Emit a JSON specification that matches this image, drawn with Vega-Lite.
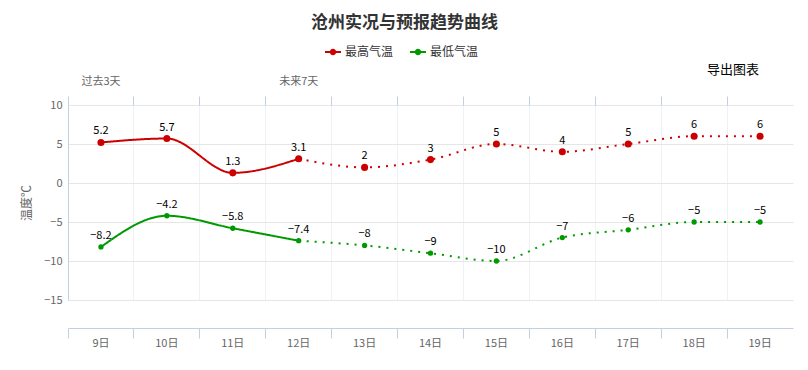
{
  "$schema": "https://vega.github.io/schema/vega-lite/v6.json",
  "width": 725,
  "height": 195,
  "autosize": {"type": "none"},
  "padding": {"left": 68, "top": 105, "right": 15, "bottom": 70},
  "background": "#ffffff",
  "title": {
    "text": "沧州实况与预报趋势曲线",
    "anchor": "middle",
    "dx": -26,
    "offset": 12,
    "font": "Noto Sans CJK SC",
    "fontSize": 17,
    "fontWeight": "bold",
    "color": "#333333"
  },
  "config": {
    "font": "Noto Sans CJK SC",
    "view": {"stroke": null},
    "axisY": {"values": [-15, -10, -5, 0, 5, 10], "labelOverlap": false, "tickCount": 6, "titleColor": "#666666", "titleFontWeight": "normal", "titleFontSize": 12, "titlePadding": 10, "labelColor": "#666666", "labelFontSize": 11, "labelPadding": 6, "ticks": false, "domainColor": "#c0d0e0", "gridColor": "#e6e6e6", "grid": true},
    "legend": {
      "symbolType": "M-1,-0.13H1V0.13H-1Z M-0.4,0a0.4,0.4 0 1,1 0.8,0a0.4,0.4 0 1,1 -0.8,0",
      "symbolSize": 256,
      "symbolStrokeWidth": 0,
      "labelFontSize": 12,
      "labelColor": "#333333",
      "labelFont": "Noto Sans CJK SC"
    }
  },
  "datasets": {
    "temps": [
      {"date": "9日", "type": "最高气温", "value": 5.2, "phase": "实况"},
      {"date": "10日", "type": "最高气温", "value": 5.7, "phase": "实况"},
      {"date": "11日", "type": "最高气温", "value": 1.3, "phase": "实况"},
      {"date": "12日", "type": "最高气温", "value": 3.1, "phase": "实况"},
      {"date": "12日", "type": "最高气温", "value": 3.1, "phase": "预报"},
      {"date": "13日", "type": "最高气温", "value": 2, "phase": "预报"},
      {"date": "14日", "type": "最高气温", "value": 3, "phase": "预报"},
      {"date": "15日", "type": "最高气温", "value": 5, "phase": "预报"},
      {"date": "16日", "type": "最高气温", "value": 4, "phase": "预报"},
      {"date": "17日", "type": "最高气温", "value": 5, "phase": "预报"},
      {"date": "18日", "type": "最高气温", "value": 6, "phase": "预报"},
      {"date": "19日", "type": "最高气温", "value": 6, "phase": "预报"},
      {"date": "9日", "type": "最低气温", "value": -8.2, "phase": "实况"},
      {"date": "10日", "type": "最低气温", "value": -4.2, "phase": "实况"},
      {"date": "11日", "type": "最低气温", "value": -5.8, "phase": "实况"},
      {"date": "12日", "type": "最低气温", "value": -7.4, "phase": "实况"},
      {"date": "12日", "type": "最低气温", "value": -7.4, "phase": "预报"},
      {"date": "13日", "type": "最低气温", "value": -8, "phase": "预报"},
      {"date": "14日", "type": "最低气温", "value": -9, "phase": "预报"},
      {"date": "15日", "type": "最低气温", "value": -10, "phase": "预报"},
      {"date": "16日", "type": "最低气温", "value": -7, "phase": "预报"},
      {"date": "17日", "type": "最低气温", "value": -6, "phase": "预报"},
      {"date": "18日", "type": "最低气温", "value": -5, "phase": "预报"},
      {"date": "19日", "type": "最低气温", "value": -5, "phase": "预报"}
    ],
    "notes": [
      {"date": "9日", "level": 13, "label": "过去3天"},
      {"date": "12日", "level": 13, "label": "未来7天"}
    ],
    "button": [
      {"date": "19日", "level": 14.5, "label": "导出图表"}
    ]
  },
  "resolve": {"axis": {"x": "independent"}},
  "layer": [
    {
      "data": {"name": "temps"},
      "mark": {"type": "line", "interpolate": "monotone", "strokeWidth": 2, "strokeCap": "butt"},
      "encoding": {
        "x": {
          "field": "date", "type": "nominal",
          "scale": {"type": "band", "paddingInner": 0, "paddingOuter": 0, "domain": ["9日","10日","11日","12日","13日","14日","15日","16日","17日","18日","19日"]},
          "axis": {"orient": "bottom", "offset": 28, "bandPosition": 0, "labels": false, "title": null, "ticks": true, "tickSize": 10, "tickColor": "#c0d0e0", "domainColor": "#c0d0e0", "grid": true, "gridColor": "#eef1f5"}
        },
        "y": {
          "field": "value", "type": "quantitative",
          "scale": {"domain": [-15, 10], "nice": false, "zero": false},
          "axis": {"title": "温度℃", "values": [-15, -10, -5, 0, 5, 10]}
        },
        "color": {
          "field": "type", "type": "nominal",
          "scale": {"domain": ["最高气温", "最低气温"], "range": ["#cc0000", "#009900"]},
          "legend": {"title": null, "orient": "none", "direction": "horizontal", "legendX": 257, "legendY": -61, "columnPadding": 16}
        },
        "strokeDash": {
          "field": "phase", "type": "nominal",
          "scale": {"domain": ["实况", "预报"], "range": [[1, 0], [2, 6]]},
          "legend": null
        }
      }
    },
    {
      "data": {"name": "temps"},
      "transform": [{"filter": "datum.type === '最高气温' && !(datum.phase === '预报' && datum.date === '12日')"}],
      "mark": {"type": "point", "filled": true, "opacity": 1, "shape": "circle", "size": 50},
      "encoding": {
        "x": {
          "field": "date", "type": "nominal",
          "axis": {"orient": "bottom", "offset": 28, "labels": true, "labelAngle": 0, "title": null, "ticks": false, "domain": false, "grid": false, "labelColor": "#666666", "labelFontSize": 11, "labelPadding": 9}
        },
        "y": {"field": "value", "type": "quantitative", "axis": {"title": "温度℃", "values": [-15, -10, -5, 0, 5, 10]}},
        "color": {"field": "type", "type": "nominal"}
      }
    },
    {
      "data": {"name": "temps"},
      "transform": [{"filter": "datum.type === '最低气温' && !(datum.phase === '预报' && datum.date === '12日')"}],
      "mark": {"type": "point", "filled": true, "opacity": 1, "shape": "circle", "size": 28},
      "encoding": {
        "x": {"field": "date", "type": "nominal", "axis": null},
        "y": {"field": "value", "type": "quantitative", "axis": {"title": "温度℃", "values": [-15, -10, -5, 0, 5, 10]}},
        "color": {"field": "type", "type": "nominal"}
      }
    },
    {
      "data": {"name": "temps"},
      "transform": [{"filter": "!(datum.phase === '预报' && datum.date === '12日')"}],
      "mark": {"type": "text", "dy": -11, "fontSize": 11, "color": "#000000"},
      "encoding": {
        "x": {
          "field": "date", "type": "nominal",
          "axis": {"orient": "top", "bandPosition": 0, "labels": false, "title": null, "ticks": true, "tickSize": 9, "tickColor": "#c0d0e0", "domain": false, "grid": false}
        },
        "y": {"field": "value", "type": "quantitative", "axis": {"title": "温度℃", "values": [-15, -10, -5, 0, 5, 10]}},
        "text": {"field": "value", "type": "quantitative"}
      }
    },
    {
      "data": {"name": "notes"},
      "mark": {"type": "text", "fontSize": 11, "color": "#666666"},
      "encoding": {
        "x": {"field": "date", "type": "nominal", "axis": null},
        "y": {"field": "level", "type": "quantitative", "axis": {"title": "温度℃", "values": [-15, -10, -5, 0, 5, 10]}},
        "text": {"field": "label"}
      }
    },
    {
      "data": {"name": "button"},
      "mark": {"type": "text", "fontSize": 13, "color": "#000000", "dx": -27},
      "encoding": {
        "x": {"field": "date", "type": "nominal", "axis": null},
        "y": {"field": "level", "type": "quantitative", "axis": {"title": "温度℃", "values": [-15, -10, -5, 0, 5, 10]}},
        "text": {"field": "label"}
      }
    }
  ]
}
